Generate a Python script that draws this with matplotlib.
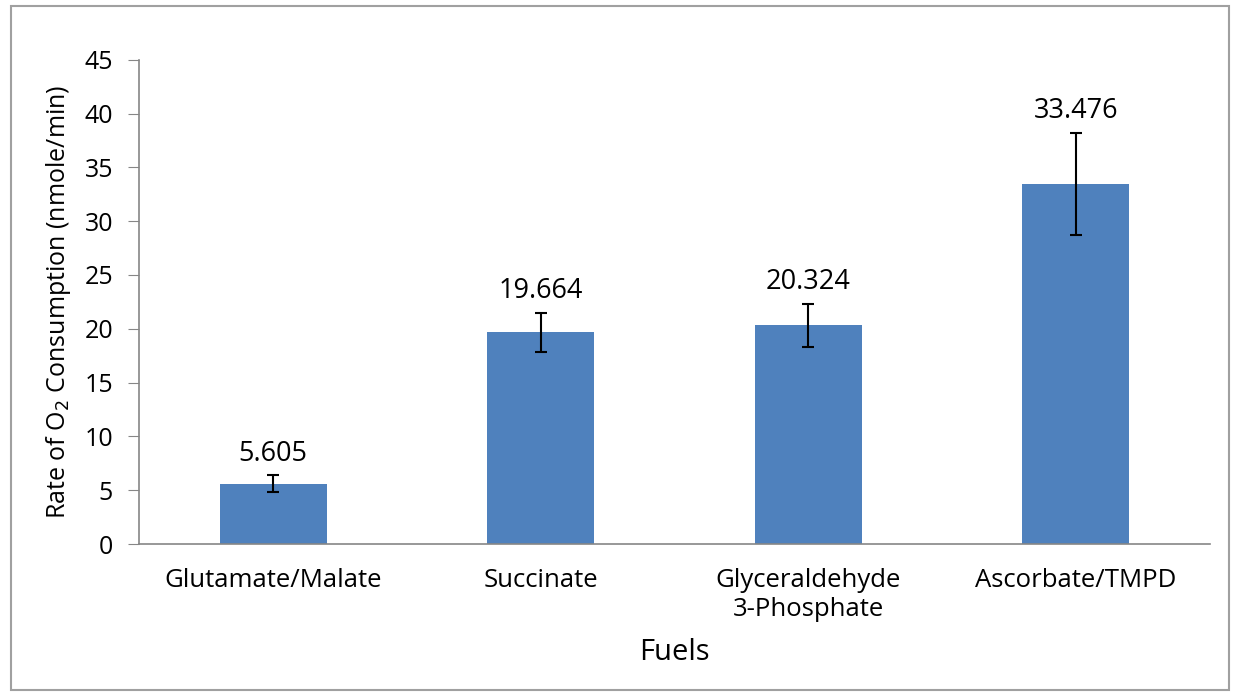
import matplotlib.pyplot as plt
from matplotlib.patches import Rectangle

fuels = ['Glutamate/Malate', 'Succinate', 'Glyceraldehyde\n3-Phosphate', 'Ascorbate/TMPD']
rates = [5.605, 19.664, 20.324, 33.476]
errors = [0.8, 1.85, 2.0, 4.75]
labels = ['5.605', '19.664', '20.324', '33.476']

plt.rcParams['font.family'] = ['Open Sans', 'DejaVu Sans']

fig = plt.figure(figsize=(12.33, 6.94), dpi=100)
ax = fig.add_axes([0.113, 0.216, 0.868, 0.698])

x = range(len(fuels))
ax.bar(x, rates, width=0.4, color='#4F81BD')
ax.errorbar(x, rates, yerr=errors, fmt='none', ecolor='black', elinewidth=1.5,
            capsize=4, capthick=1.5)

for i, (r, e, t) in enumerate(zip(rates, errors, labels)):
    ax.text(i, r + e + 0.7, t, ha='center', va='bottom', fontsize=19.5)

ax.set_xlim(-0.5, len(fuels) - 0.5)
ax.set_ylim(0, 45)
ax.set_yticks(range(0, 46, 5))
ax.set_xticks(list(x))
ax.set_xticklabels(fuels, fontsize=18.5, linespacing=1.2)
ax.tick_params(axis='x', length=0, pad=17)
ax.tick_params(axis='y', labelsize=18, color='#868686', length=8, pad=11)

for s in ['top', 'right']:
    ax.spines[s].set_visible(False)
for s in ['left', 'bottom']:
    ax.spines[s].set_color('#868686')
    ax.spines[s].set_linewidth(1.2)

ax.set_xlabel('Fuels', fontsize=21, labelpad=12)
ax.set_ylabel('Rate of O$_2$ Consumption (nmole/min)', fontsize=18, labelpad=8)

# outer chart border
fig.patches.append(Rectangle((0.009, 0.006), 0.988, 0.985, transform=fig.transFigure,
                             fill=False, edgecolor='#A0A0A0', linewidth=1.5))

fig.savefig('out.png', dpi=100)
